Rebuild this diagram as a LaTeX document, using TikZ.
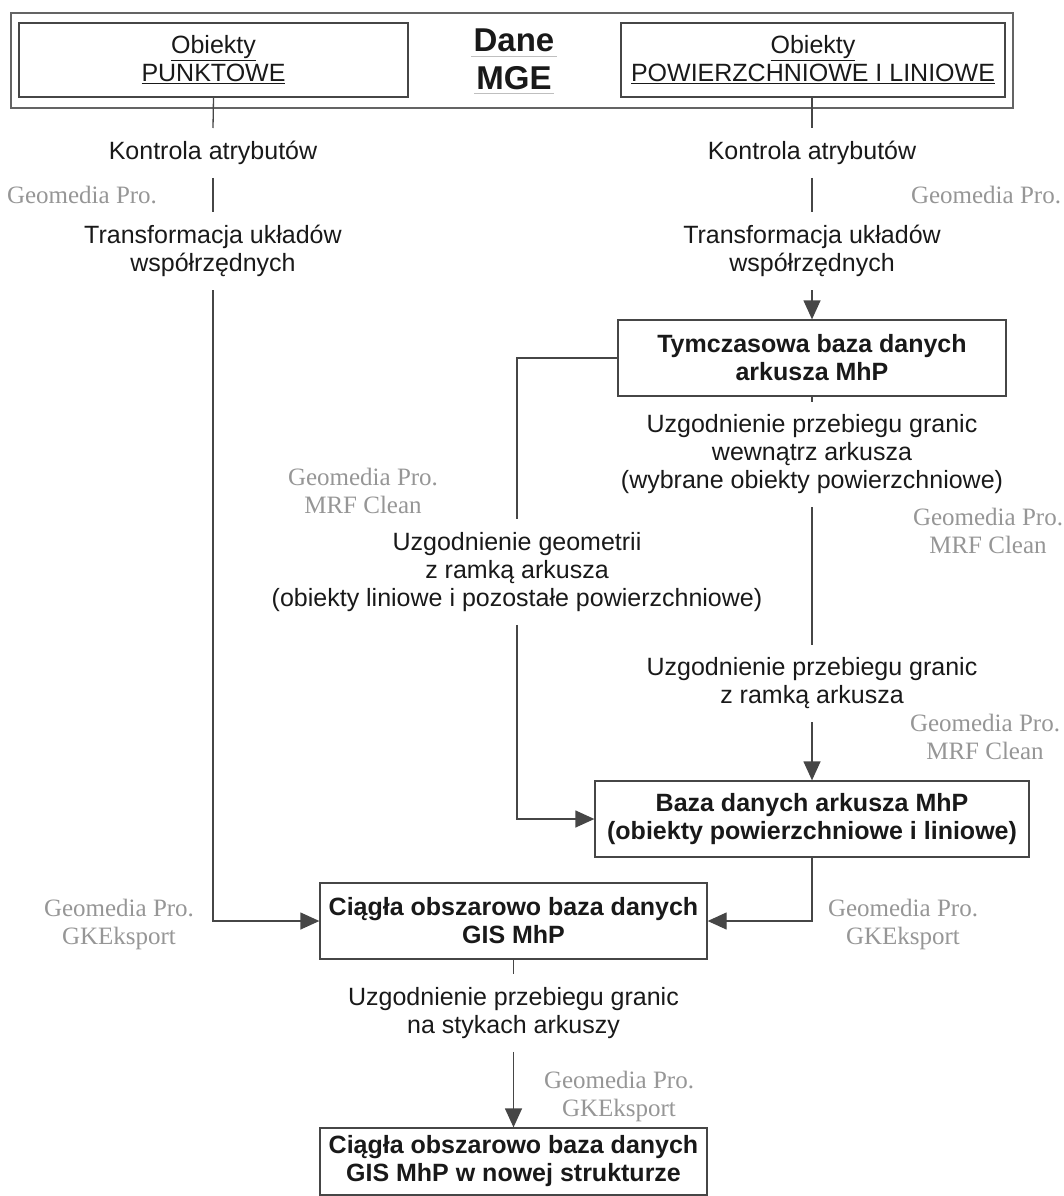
\documentclass[tikz,border=0pt]{standalone}
\usepackage{fontspec}
\setmainfont{Liberation Sans}
\newfontfamily\toolfont{Liberation Serif}
\usetikzlibrary{arrows.meta, positioning, calc}
\definecolor{tool_gray}{RGB}{150,150,150}
\definecolor{line_gray}{RGB}{70,70,70}
\definecolor{frame_gray}{RGB}{100,100,100}
\definecolor{text_black}{RGB}{25,25,25}
\tikzset{
  box_font/.style = {font=\fontsize{25}{28}\selectfont},
  bold_font/.style = {font=\fontsize{25}{28}\selectfont\bfseries},
  head_font/.style = {font=\fontsize{33}{37}\selectfont\bfseries},
  tool_font/.style = {font=\fontsize{25}{28}\selectfont\toolfont}
}
\tikzset{
  frame/.style = {draw=frame_gray, line width=1.2pt, inner sep=0},
  group_box/.style = {box_font, draw=line_gray, line width=1.3pt, align=center, text=text_black, inner sep=0},
  data_box/.style = {bold_font, draw=line_gray, line width=1.3pt, align=center, text=text_black, inner sep=0, minimum height=76},
  step_text/.style = {box_font, align=center, text=text_black, inner xsep=2pt, inner ysep=13pt},
  tool_text/.style = {tool_font, align=center, text=tool_gray, inner sep=1pt},
  head_text/.style = {head_font, text=text_black, inner xsep=2pt, anchor=base},
  link/.style = {draw=line_gray, line width=1.3pt},
  flow/.style = {link, -{Triangle[length=19pt, width=17pt]}},
  head_rule/.style = {draw=black!25, line width=1pt}
}
\begin{document}
\begin{tikzpicture}[x=1pt, y=-1pt]
        \useasboundingbox (0,0) rectangle (1063,1196);

        % Dane MGE
        \node[frame, minimum width=1002, minimum height=95] (mge) at (512,60.5) {};
        \node[group_box, minimum width=389, minimum height=74] (punkt) at (213.5,60) {
            \underline{Obiekty}\\\underline{PUNKTOWE}};
        \node[group_box, minimum width=384, minimum height=74] (powl) at (813,60) {
            \underline{Obiekty}\\\underline{POWIERZCHNIOWE I LINIOWE}};
        \node[head_text] (dane) at (514,52) {Dane};
        \node[head_text] (mge_t) at (514,90) {MGE};
        \draw[head_rule] ([yshift=-5pt]dane.base west) -- ([yshift=-5pt]dane.base east);
        \draw[head_rule] ([yshift=-4pt]mge_t.base west) -- ([yshift=-4pt]mge_t.base east);

        % left column
        \node[step_text] (kon_l) at (213,153) {Kontrola atrybutów};
        \node[step_text] (trans_l) at (213,251) {Transformacja układów\\współrzędnych};
        \node[tool_text] (tool_1) at (82,195) {Geomedia Pro.};

        % right column
        \node[step_text] (kon_r) at (812,153) {Kontrola atrybutów};
        \node[step_text] (trans_r) at (812,251) {Transformacja układów\\współrzędnych};
        \node[tool_text] (tool_2) at (986,195) {Geomedia Pro.};

        \node[data_box, minimum width=388] (tymcz) at (812,358) {
            Tymczasowa baza danych\\arkusza MhP};
        \node[step_text] (wewn) at (812,454.5) {
            Uzgodnienie przebiegu granic\\wewnątrz arkusza\\(wybrane obiekty powierzchniowe)};
        \node[tool_text] (tool_4) at (988,531) {Geomedia Pro.\\MRF Clean};
        \node[step_text] (ramka) at (812,683.5) {
            Uzgodnienie przebiegu granic\\z ramką arkusza};
        \node[tool_text] (tool_5) at (985,737) {Geomedia Pro.\\MRF Clean};

        % middle branch
        \node[step_text] (geom) at (517,572) {
            Uzgodnienie geometrii\\z ramką arkusza\\(obiekty liniowe i pozostałe powierzchniowe)};
        \node[tool_text] (tool_3) at (363,491) {Geomedia Pro.\\MRF Clean};

        \node[data_box, minimum width=434] (baza) at (812,819) {
            Baza danych arkusza MhP\\(obiekty powierzchniowe i liniowe)};

        % GIS MhP
        \node[data_box, minimum width=387] (ciagla) at (513.5,921) {
            Ciągła obszarowo baza danych\\GIS MhP};
        \node[tool_text] (tool_6) at (119,924) {Geomedia Pro.\\GKEksport};
        \node[tool_text] (tool_7) at (903,924) {Geomedia Pro.\\GKEksport};
        \node[step_text] (styki) at (513.5,1013) {
            Uzgodnienie przebiegu granic\\na stykach arkuszy};
        \node[tool_text] (tool_8) at (619,1096) {Geomedia Pro.\\GKEksport};
        \node[data_box, minimum height=67, minimum width=387] (nowa) at (513.5,1161.5) {
            Ciągła obszarowo baza danych\\GIS MhP w nowej strukturze};

        % Arrows and lines
        \draw[link] (punkt.south) -- (kon_l.north);
        \draw[link] (kon_l.south) -- (trans_l.north);
        \draw[flow] (trans_l.south) |- (ciagla.west);

        \draw[link] (powl.south -| kon_r.north) -- (kon_r.north);
        \draw[link] (kon_r.south) -- (trans_r.north);
        \draw[flow] (trans_r.south) -- (tymcz.north);
        \draw[link] (tymcz.south) -- (wewn.north);
        \draw[link] (wewn.south) -- (ramka.north);
        \draw[flow] (ramka.south) -- (baza.north);

        \draw[link] (tymcz.west) -| (geom.north);
        \draw[flow] (geom.south) |- (baza.west);

        \draw[flow] (baza.south) |- (ciagla.east);
        \draw[link] (ciagla.south) -- (styki.north);
        \draw[flow] (styki.south) -- (nowa.north);
\end{tikzpicture}
\end{document}
